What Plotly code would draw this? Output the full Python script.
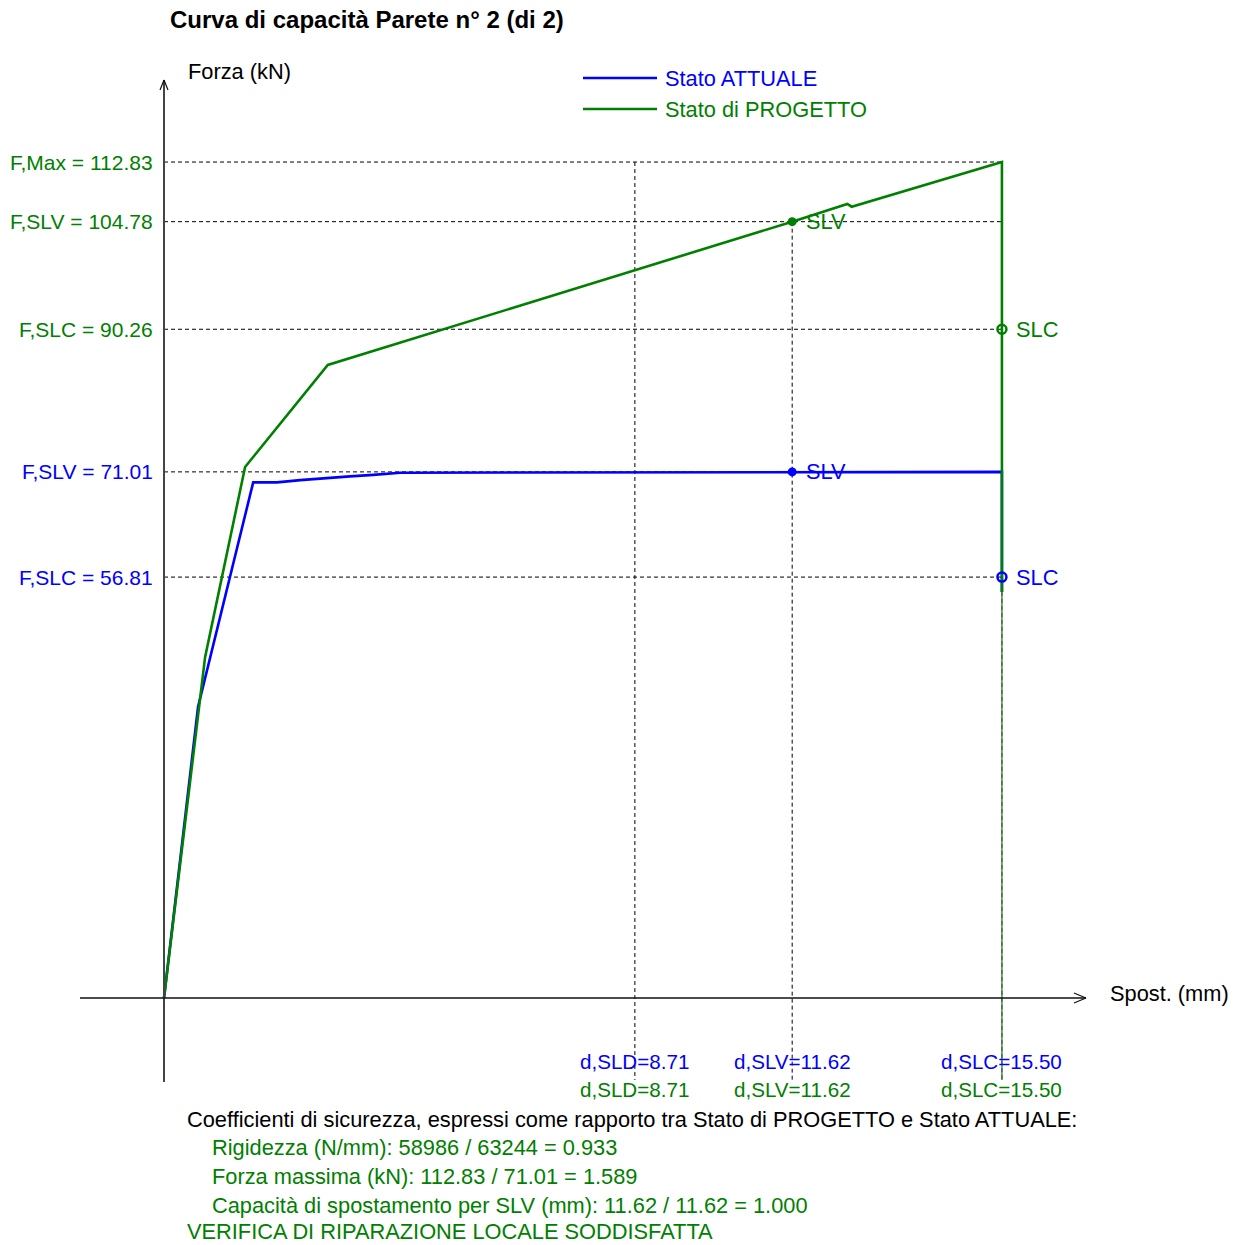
import plotly.graph_objects as go

# ---------------- data ----------------
attuale_x = [0, 0.63, 1.65, 2.09, 2.52, 3.02, 3.44, 3.87, 4.37, 15.50, 15.50]
attuale_y = [0, 39.3, 69.6, 69.6, 69.9, 70.2, 70.4, 70.6, 70.9, 71.01, 54.8]

progetto_x = [0, 0.64, 0.76, 1.50, 3.03, 11.62, 12.64, 12.72, 15.50, 15.50]
progetto_y = [0, 39.3, 46.0, 71.67, 85.44, 104.78, 107.17, 106.8, 112.83, 54.8]

f_levels = [112.83, 104.78, 90.26, 71.01, 56.81]
f_names = ["F,Max", "F,SLV", "F,SLC", "F,SLV", "F,SLC"]
f_series = ["P", "P", "P", "A", "A"]

d_names = ["d,SLD", "d,SLV", "d,SLC"]
d_attuale = [8.71, 11.62, 15.50]
d_progetto = [8.71, 11.62, 15.50]

slv_x = 11.62
slc_x = 15.50
slv_att, slc_att = 71.01, 56.81
slv_prog, slc_prog = 104.78, 90.26

title = "Curva di capacità Parete n° 2 (di 2)"
summary = [
    ("Coefficienti di sicurezza, espressi come rapporto tra Stato di PROGETTO e Stato ATTUALE:", "K", 186),
    ("Rigidezza (N/mm): 58986 / 63244 = 0.933", "P", 211),
    ("Forza massima (kN): 112.83 / 71.01 = 1.589", "P", 211),
    ("Capacità di spostamento per SLV (mm): 11.62 / 11.62 = 1.000", "P", 211),
    ("VERIFICA DI RIPARAZIONE LOCALE SODDISFATTA", "P", 186),
]

# ---------------- layout helpers ----------------
W, H = 1235, 1245
X0, XS = 164, 54.06
Y0, YS = 998, 7.409
BLUE = "#0000FF"
GREEN = "#008000"
FONT = "Liberation Sans, Arial, sans-serif"
FS = 21.8
FS_Y = 21
FS_D = 20.6
col = {"A": BLUE, "P": GREEN, "K": "#000000"}


def dx(px):
    return (px - X0) / XS


def dy(py):
    return (Y0 - py) / YS


def paper(px, py):
    return px / W, 1 - py / H


fig = go.Figure()
DASH = "4px,3px"

# horizontal dashed reference lines
for f in f_levels:
    fig.add_trace(go.Scatter(x=[0, slc_x], y=[f, f], mode="lines",
                             line=dict(color="black", width=1, dash=DASH),
                             hoverinfo="skip", showlegend=False))
# vertical dashed reference lines
fig.add_trace(go.Scatter(x=[d_attuale[0], d_attuale[0]], y=[f_levels[0], dy(1080)], mode="lines",
                         line=dict(color="black", width=1, dash=DASH), hoverinfo="skip", showlegend=False))
fig.add_trace(go.Scatter(x=[d_attuale[1], d_attuale[1]], y=[slv_prog, dy(1080)], mode="lines",
                         line=dict(color="black", width=1, dash=DASH), hoverinfo="skip", showlegend=False))
fig.add_trace(go.Scatter(x=[d_attuale[2], d_attuale[2]], y=[progetto_y[-1], dy(1080)], mode="lines",
                         line=dict(color=GREEN, width=1.2), hoverinfo="skip", showlegend=False))
fig.add_trace(go.Scatter(x=[d_attuale[2], d_attuale[2]], y=[progetto_y[-1], dy(1080)], mode="lines",
                         line=dict(color="#555555", width=1.2, dash=DASH), hoverinfo="skip", showlegend=False))

# curves
fig.add_trace(go.Scatter(x=attuale_x, y=attuale_y, mode="lines",
                         line=dict(color=BLUE, width=2.6), name="Stato ATTUALE", showlegend=False))
fig.add_trace(go.Scatter(x=progetto_x, y=progetto_y, mode="lines",
                         line=dict(color=GREEN, width=2.6), name="Stato di PROGETTO", showlegend=False))

# markers
fig.add_trace(go.Scatter(x=[slv_x], y=[slv_prog], mode="markers",
                         marker=dict(color=GREEN, size=9), showlegend=False))
fig.add_trace(go.Scatter(x=[slc_x], y=[slc_prog], mode="markers",
                         marker=dict(color=GREEN, size=9, symbol="circle-open", line=dict(width=2.5, color=GREEN)),
                         showlegend=False))
fig.add_trace(go.Scatter(x=[slv_x], y=[slv_att], mode="markers",
                         marker=dict(color=BLUE, size=9), showlegend=False))
fig.add_trace(go.Scatter(x=[slc_x], y=[slc_att], mode="markers",
                         marker=dict(color=BLUE, size=9, symbol="circle-open", line=dict(width=2.5, color=BLUE)),
                         showlegend=False))

ann = []
shapes = []

# marker labels
for xv, yv, t, c in [(slv_x, slv_prog, "SLV", GREEN), (slc_x, slc_prog, "SLC", GREEN),
                     (slv_x, slv_att, "SLV", BLUE), (slc_x, slc_att, "SLC", BLUE)]:
    ann.append(dict(x=xv + dx(X0 + 12), y=yv, xref="x", yref="y", text=t, showarrow=False,
                    xanchor="left", yanchor="middle", font=dict(color=c, size=FS, family=FONT)))

# y labels
for f, n, s in zip(f_levels, f_names, f_series):
    ann.append(dict(x=dx(155), y=f, xref="x", yref="y", text=f"{n} = {f:.2f}", showarrow=False,
                    xanchor="right", yanchor="middle", font=dict(color=col[s], size=FS_Y, family=FONT)))

# d labels
for n, da, dp in zip(d_names, d_attuale, d_progetto):
    ann.append(dict(x=da, y=dy(1061), xref="x", yref="y", text=f"{n}={da:.2f}", showarrow=False,
                    xanchor="center", yanchor="middle", font=dict(color=BLUE, size=FS_D, family=FONT)))
    ann.append(dict(x=dp, y=dy(1089), xref="x", yref="y", text=f"{n}={dp:.2f}", showarrow=False,
                    xanchor="center", yanchor="middle", font=dict(color=GREEN, size=FS_D, family=FONT)))

# axes
shapes.append(dict(type="line", xref="x", yref="y", x0=0, x1=0, y0=dy(1082), y1=dy(80),
                   line=dict(color="#444444", width=2)))
shapes.append(dict(type="line", xref="x", yref="y", x0=dx(80), x1=dx(1086), y0=0, y1=0,
                   line=dict(color="#111111", width=1.3)))
# arrowheads
shapes.append(dict(type="line", xref="x", yref="y", x0=0, x1=dx(160), y0=dy(80), y1=dy(90),
                   line=dict(color="#111111", width=1.2)))
shapes.append(dict(type="line", xref="x", yref="y", x0=0, x1=dx(168), y0=dy(80), y1=dy(90),
                   line=dict(color="#111111", width=1.2)))
shapes.append(dict(type="line", xref="x", yref="y", x0=dx(1086), x1=dx(1074), y0=0, y1=dy(993),
                   line=dict(color="#111111", width=1.2)))
shapes.append(dict(type="line", xref="x", yref="y", x0=dx(1086), x1=dx(1074), y0=0, y1=dy(1003),
                   line=dict(color="#111111", width=1.2)))

# axis titles
ann.append(dict(x=dx(186), y=dy(71), xref="x", yref="y", text="Forza (kN)", showarrow=False,
                xanchor="left", yanchor="middle", font=dict(color="black", size=FS, family=FONT)))
ann.append(dict(x=dx(1108), y=dy(993), xref="x", yref="y", text="Spost. (mm)", showarrow=False,
                xanchor="left", yanchor="middle", font=dict(color="black", size=FS, family=FONT)))

# title
px, py = paper(168, 20)
ann.append(dict(x=px, y=py, xref="paper", yref="paper", text=f"<b>{title}</b>", showarrow=False,
                xanchor="left", yanchor="middle", font=dict(color="black", size=24, family=FONT)))

# legend
for (ly, t, c) in [(78, "Stato ATTUALE", BLUE), (109, "Stato di PROGETTO", GREEN)]:
    a0, b0 = paper(583, ly)
    a1, _ = paper(657, ly)
    shapes.append(dict(type="line", xref="paper", yref="paper", x0=a0, x1=a1, y0=b0, y1=b0,
                       line=dict(color=c, width=2.6)))
    tx, ty = paper(663, ly)
    ann.append(dict(x=tx, y=ty, xref="paper", yref="paper", text=t, showarrow=False,
                    xanchor="left", yanchor="middle", font=dict(color=c, size=FS, family=FONT)))

# summary text
for (t, s, xpx), ypx in zip(summary, [1119, 1147.5, 1176.5, 1205, 1231]):
    tx, ty = paper(xpx, ypx)
    ann.append(dict(x=tx, y=ty, xref="paper", yref="paper", text=t, showarrow=False,
                    xanchor="left", yanchor="middle", borderpad=0,
                    font=dict(color=col[s], size=FS, family=FONT)))

fig.update_layout(
    width=W, height=H,
    margin=dict(l=0, r=0, t=0, b=0),
    paper_bgcolor="white", plot_bgcolor="white",
    xaxis=dict(range=[dx(0), dx(W)], visible=False, fixedrange=True),
    yaxis=dict(range=[dy(H), dy(0)], visible=False, fixedrange=True),
    annotations=ann, shapes=shapes, showlegend=False,
)

fig.write_html("out.html", config={"displayModeBar": False},
               post_script="document.body.style.margin='0';document.body.style.overflow='hidden';")
